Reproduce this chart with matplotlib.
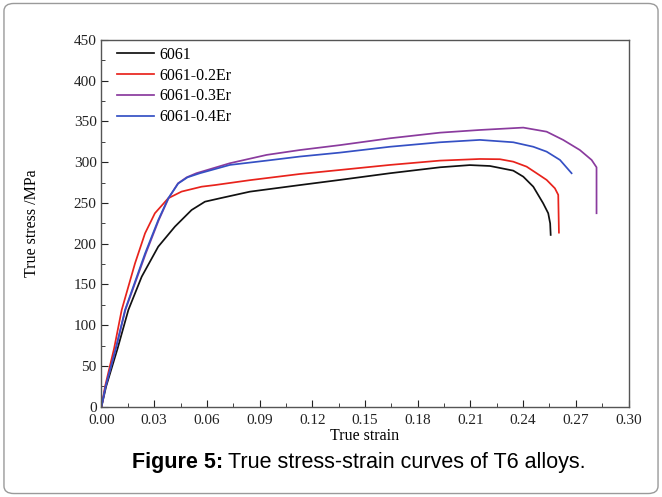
import matplotlib.pyplot as plt
from matplotlib.patches import FancyBboxPatch
from matplotlib.ticker import MultipleLocator, FormatStrFormatter

# data (true strain, true stress MPa)
strain_6061 = [0.0, 0.0026, 0.0092, 0.0153, 0.0229, 0.0323, 0.0418, 0.0513, 0.0589, 0.0675, 0.0845,
               0.113, 0.1357, 0.1642, 0.1927, 0.2097, 0.2211, 0.2249, 0.2344, 0.2401, 0.2458, 0.2514,
               0.2543, 0.2554, 0.2557]
stress_6061 = [0, 24.5, 71.7, 118.7, 159.6, 196.4, 221, 241.4, 251.6, 255.8, 263.9,
               272, 278.3, 286.5, 293.8, 296.5, 295.4, 293.8, 289.7, 282.3, 270, 249.7,
               237.4, 225, 210.8]

strain_02 = [0.0, 0.002, 0.0072, 0.0115, 0.0191, 0.0248, 0.0304, 0.038, 0.0456, 0.057, 0.0646, 0.0845,
             0.113, 0.1357, 0.1642, 0.1927, 0.2154, 0.2268, 0.2344, 0.242, 0.2477, 0.2534, 0.2581,
             0.26, 0.2604]
stress_02 = [0, 24.5, 71.7, 118.7, 176, 212.8, 237.4, 255.8, 264, 270, 272, 278,
             285.6, 290.5, 296.7, 302, 304, 303.7, 300.7, 294.6, 286.5, 278.3, 268,
             260, 213.6]

strain_03 = [0.0, 0.0023, 0.0082, 0.0136, 0.0252, 0.0326, 0.0382, 0.0435, 0.0485, 0.054, 0.0731, 0.094,
             0.113, 0.1357, 0.1642, 0.1927, 0.2154, 0.2401, 0.2534, 0.2628, 0.2723, 0.279,
             0.2818, 0.2818]
stress_03 = [0, 24.5, 71.7, 118.7, 188, 229, 255.8, 274, 281.5, 286.5, 298.8, 309,
             315, 321, 329.4, 336.3, 339.6, 342.5, 337.5, 327.4, 315, 302.8,
             293.8, 237.4]

strain_04 = [0.0, 0.0023, 0.0082, 0.0134, 0.0248, 0.0323, 0.038, 0.0437, 0.049, 0.056, 0.0731, 0.094,
             0.113, 0.1357, 0.1642, 0.1927, 0.2154, 0.2344, 0.2458, 0.2534, 0.261, 0.2676]
stress_04 = [0, 24.5, 71.7, 118.7, 188, 229, 255.8, 274, 281.5, 286.5, 296.7, 302,
             307, 311.8, 319, 324.5, 327.4, 324.5, 319, 313, 302.8, 286.5]

labels = ["6061", "6061-0.2Er", "6061-0.3Er", "6061-0.4Er"]
colors = ["#111111", "#e8231c", "#8a3b9e", "#3550c4"]

plt.rcParams['font.family'] = ['Liberation Serif', 'DejaVu Serif']
fig = plt.figure(figsize=(6.62, 4.97), dpi=100)

# rounded frame around the whole figure
frame = FancyBboxPatch((0.006, 0.007), 0.988, 0.986, boxstyle="round,pad=0,rounding_size=0.015",
                       transform=fig.transFigure, facecolor="none", edgecolor="#9a9a9a",
                       linewidth=1.0, zorder=-5)
fig.patches.append(frame)

ax = fig.add_axes([0.1533, 0.1817, 0.7961, 0.7378])
for x, y, c, lab in zip([strain_6061, strain_02, strain_03, strain_04],
                        [stress_6061, stress_02, stress_03, stress_04], colors, labels):
    ax.plot(x, y, color=c, lw=1.25, label=lab)

ax.set_xlim(0, 0.30)
ax.set_ylim(0, 450)
ax.xaxis.set_major_locator(MultipleLocator(0.03))
ax.xaxis.set_minor_locator(MultipleLocator(0.015))
ax.yaxis.set_major_locator(MultipleLocator(50))
ax.yaxis.set_minor_locator(MultipleLocator(25))
ax.xaxis.set_major_formatter(FormatStrFormatter('%.2f'))
ax.tick_params(which='both', direction='in', top=False, right=False, labelsize=11, colors='#222222')
ax.tick_params(which='major', length=5)
ax.tick_params(axis='x', pad=5)
ax.tick_params(which='minor', length=3)
for s in ax.spines.values():
    s.set_color('#555555')
    s.set_linewidth(1.0)

ax.set_xlabel("True strain", fontsize=11.5, labelpad=1)
ax.set_ylabel("True stress /MPa", fontsize=11.5, labelpad=24)

ax.legend(loc='upper left', bbox_to_anchor=(0.0, 1.025), frameon=False, fontsize=11.5,
          handlelength=2.3, handletextpad=0.35, labelspacing=0.3, borderaxespad=0.6)

# caption: bold part then normal part, placed one after the other
t1 = fig.text(132 / 662, 0.07, "Figure 5:", fontsize=15.5, fontweight='bold', ha='left',
              va='center', family='Liberation Sans')
fig.canvas.draw()
bb = t1.get_window_extent()
fig.text((bb.x1 + 5) / fig.bbox.width, 0.07, "True stress-strain curves of T6 alloys.",
         fontsize=15.5, ha='left', va='center', family='Liberation Sans')

fig.savefig("out.png", dpi=100)
